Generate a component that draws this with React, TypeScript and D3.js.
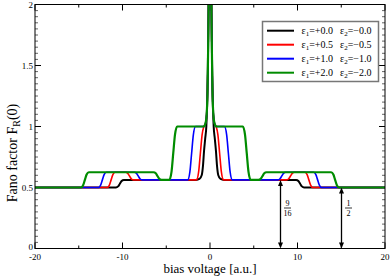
import React from "react";
import * as d3 from "d3";

const W = 391, H = 277;
const M = { left: 35, right: 385, top: 4.5, bottom: 248.5 };

const xMajor = [-20, -10, 0, 10, 20];
const xMinor = [-15, -5, 5, 15];
const yMajor = [0, 0.5, 1, 1.5, 2];
const yTickLabels = ["0", "0.5", "1", "1.5", "2"];

const blackPts: [number, number][] = [
  [-20, 0.5], [-10.75, 0.5], [-10.5, 0.509], [-10.3, 0.531], [-10.1, 0.553], [-9.85, 0.5625],
  [-1.6, 0.5625], [-1.2, 0.57], [-0.95, 0.6], [-0.8, 0.68], [-0.68, 0.8], [-0.55, 0.9], [-0.42, 1.0],
  [-0.32, 1.2], [-0.24, 1.5], [-0.17, 2.0], [-0.08, 2.6], [0, 2.8],
  [0.08, 2.6], [0.17, 2.0], [0.24, 1.5], [0.32, 1.2], [0.42, 1.0], [0.55, 0.9], [0.68, 0.8],
  [0.8, 0.68], [0.95, 0.6], [1.2, 0.57], [1.6, 0.5625],
  [9.85, 0.5625], [10.1, 0.553], [10.3, 0.531], [10.5, 0.509], [10.75, 0.5], [20, 0.5],
];

const redPts: [number, number][] = [
  [-20, 0.5], [-11.75, 0.5], [-11.5, 0.519], [-11.3, 0.5625], [-11.1, 0.606], [-10.85, 0.625],
  [-9.65, 0.625], [-9.4, 0.616], [-9.2, 0.594], [-9.0, 0.572], [-8.75, 0.5625],
  [-1.55, 0.5625], [-1.3, 0.628], [-1.1, 0.781], [-0.9, 0.934], [-0.7, 1.0],
  [-0.5, 1.03], [-0.38, 1.1], [-0.28, 1.3], [-0.2, 1.7], [-0.14, 2.1], [-0.07, 2.6], [0, 2.8],
  [0.07, 2.6], [0.14, 2.1], [0.2, 1.7], [0.28, 1.3], [0.38, 1.1], [0.5, 1.03],
  [0.7, 1.0], [0.9, 0.934], [1.1, 0.781], [1.3, 0.628], [1.55, 0.5625],
  [8.75, 0.5625], [9.0, 0.572], [9.2, 0.594], [9.4, 0.616], [9.65, 0.625],
  [10.85, 0.625], [11.1, 0.606], [11.3, 0.5625], [11.5, 0.519], [11.75, 0.5], [20, 0.5],
];

const bluePts: [number, number][] = [
  [-20, 0.5], [-12.75, 0.5], [-12.5, 0.519], [-12.3, 0.5625], [-12.1, 0.606], [-11.85, 0.625],
  [-8.65, 0.625], [-8.4, 0.616], [-8.2, 0.594], [-8.0, 0.572], [-7.75, 0.5625],
  [-2.55, 0.5625], [-2.3, 0.628], [-2.1, 0.781], [-1.9, 0.934], [-1.65, 1.0],
  [-0.7, 1.0], [-0.5, 1.03], [-0.38, 1.1], [-0.28, 1.3], [-0.2, 1.7], [-0.14, 2.1], [-0.07, 2.6], [0, 2.8],
  [0.07, 2.6], [0.14, 2.1], [0.2, 1.7], [0.28, 1.3], [0.38, 1.1], [0.5, 1.03], [0.7, 1.0],
  [1.65, 1.0], [1.9, 0.934], [2.1, 0.781], [2.3, 0.628], [2.55, 0.5625],
  [7.75, 0.5625], [8.0, 0.572], [8.2, 0.594], [8.4, 0.616], [8.65, 0.625],
  [11.85, 0.625], [12.1, 0.606], [12.3, 0.5625], [12.5, 0.519], [12.75, 0.5], [20, 0.5],
];

const greenPts: [number, number][] = [
  [-20, 0.5], [-14.75, 0.5], [-14.5, 0.519], [-14.3, 0.5625], [-14.1, 0.606], [-13.85, 0.625],
  [-6.45, 0.625], [-6.2, 0.616], [-6.0, 0.594], [-5.8, 0.572], [-5.55, 0.5625],
  [-4.65, 0.5625], [-4.4, 0.628], [-4.2, 0.781], [-4.0, 0.934], [-3.75, 1.0],
  [-0.7, 1.0], [-0.5, 1.03], [-0.38, 1.1], [-0.28, 1.3], [-0.2, 1.7], [-0.14, 2.1], [-0.07, 2.6], [0, 2.8],
  [0.07, 2.6], [0.14, 2.1], [0.2, 1.7], [0.28, 1.3], [0.38, 1.1], [0.5, 1.03], [0.7, 1.0],
  [3.75, 1.0], [4.0, 0.934], [4.2, 0.781], [4.4, 0.628], [4.65, 0.5625],
  [5.55, 0.5625], [5.8, 0.572], [6.0, 0.594], [6.2, 0.616], [6.45, 0.625],
  [13.85, 0.625], [14.1, 0.606], [14.3, 0.5625], [14.5, 0.519], [14.75, 0.5], [20, 0.5],
];

const seriesNames = ["black", "red", "blue", "green"];
const seriesColors = ["#000000", "#ff0000", "#0000ff", "#008c00"];
const seriesWidths = [2, 1.6, 1.6, 2.2];
const seriesData = [blackPts, redPts, bluePts, greenPts];
const eps1Labels = ["+0.0", "+0.5", "+1.0", "+2.0"];
const eps2Labels = ["\u22120.0", "\u22120.5", "\u22121.0", "\u22122.0"];

const annV = [8, 15];
const annF = [0.5625, 0.5];
const annNum = ["9", "1"];
const annDen = ["16", "2"];

const serif = "'Liberation Serif', 'Times New Roman', serif";

export default function App() {
  const x = d3.scaleLinear().domain([-20, 20]).range([M.left, M.right]);
  const y = d3.scaleLinear().domain([0, 2]).range([M.bottom, M.top]);
  const line = d3
    .line<[number, number]>()
    .x((d) => x(d[0]))
    .y((d) => y(d[1]))
    .curve(d3.curveMonotoneX);

  const yMinor = d3.range(0, 2.0001, 0.05).filter((v) => Math.abs(v * 2 - Math.round(v * 2)) > 1e-6);

  const majLen = 6, minLen = 3;

  return (
    <svg width={W} height={H} style={{ position: "absolute", left: 0, top: 0, background: "#fff" }}>
      <defs>
        <clipPath id="plotclip">
          <rect x={M.left} y={M.top} width={M.right - M.left} height={M.bottom - M.top} />
        </clipPath>
      </defs>
      <rect x={0} y={0} width={W} height={H} fill="#fff" />

      <g stroke="#000" strokeWidth={1}>
        {xMajor.map((v) => (
          <g key={"xM" + v}>
            <line x1={x(v)} x2={x(v)} y1={M.bottom} y2={M.bottom - majLen} />
            <line x1={x(v)} x2={x(v)} y1={M.top} y2={M.top + majLen} />
          </g>
        ))}
        {xMinor.map((v) => (
          <g key={"xm" + v}>
            <line x1={x(v)} x2={x(v)} y1={M.bottom} y2={M.bottom - minLen} />
            <line x1={x(v)} x2={x(v)} y1={M.top} y2={M.top + minLen} />
          </g>
        ))}
        {yMajor.map((v) => (
          <g key={"yM" + v}>
            <line x1={M.left} x2={M.left + majLen} y1={y(v)} y2={y(v)} />
            <line x1={M.right} x2={M.right - majLen} y1={y(v)} y2={y(v)} />
          </g>
        ))}
      </g>
      <g stroke="#666" strokeWidth={1}>
        {yMinor.map((v) => (
          <g key={"ym" + v.toFixed(2)}>
            <line x1={M.left} x2={M.left + minLen} y1={y(v)} y2={y(v)} />
            <line x1={M.right} x2={M.right - minLen} y1={y(v)} y2={y(v)} />
          </g>
        ))}
      </g>

      <g clipPath="url(#plotclip)" fill="none">
        {seriesData.map((pts, i) => (
          <path key={seriesNames[i]} d={line(pts) || ""} stroke={seriesColors[i]} strokeWidth={seriesWidths[i]} strokeLinejoin="round" />
        ))}
      </g>

      <rect x={M.left} y={M.top} width={M.right - M.left} height={M.bottom - M.top} fill="none" stroke="#000" strokeWidth={1} />

      <g fontFamily={serif} fontSize={9} fill="#000">
        {xMajor.map((v) => (
          <text key={"xl" + v} x={x(v)} y={259.5} textAnchor="middle">
            {v < 0 ? "-" + Math.abs(v) : String(v)}
          </text>
        ))}
        {yMajor.map((v, i) => (
          <text key={"yl" + v} x={33} y={y(v) + (v === 0 ? 1.5 : 3)} textAnchor="end">
            {yTickLabels[i]}
          </text>
        ))}
      </g>

      <text x={x(0)} y={273} textAnchor="middle" fontFamily={serif} fontSize={13}>
        bias voltage [a.u.]
      </text>
      <text transform={`translate(17,153) rotate(-90)`} textAnchor="middle" fontFamily={serif} fontSize={14}>
        Fano factor F<tspan fontSize={10} dy={3}>R</tspan><tspan dy={-3}>(0)</tspan>
      </text>

      {annV.map((v, i) => {
        const ax = Math.round(x(v)) + 0.5;
        const yt = y(annF[i]);
        const yb = y(0);
        return (
          <g key={"ann" + i}>
            <line x1={ax} x2={ax} y1={yt + 4} y2={yb - 4} stroke="#000" strokeWidth={1.3} />
            <path d={`M${ax},${yt} L${ax - 2.5},${yt + 6} L${ax + 2.5},${yt + 6} Z`} fill="#000" />
            <path d={`M${ax},${yb} L${ax - 2.5},${yb - 6} L${ax + 2.5},${yb - 6} Z`} fill="#000" />
            <g fontFamily={serif} fontSize={8} textAnchor="middle">
              <text x={ax + 7} y={206}>{annNum[i]}</text>
              <line x1={ax + 3.5} x2={ax + 10.5} y1={208} y2={208} stroke="#000" strokeWidth={0.8} />
              <text x={ax + 7} y={215.5}>{annDen[i]}</text>
            </g>
          </g>
        );
      })}

      <rect x={262.5} y={21.5} width={116} height={60} fill="#fff" stroke="#777" strokeWidth={1.5} />
      {seriesNames.map((n, i) => {
        const ly = 30.7 + i * 14;
        return (
          <g key={"leg" + n}>
            <line x1={267} x2={294} y1={ly} y2={ly} stroke={seriesColors[i]} strokeWidth={2} />
            <text x={301.5} y={ly + 3.5} fontFamily={serif} fontSize={10}>
              ε<tspan fontSize={7} dy={2}>1</tspan>
              <tspan dy={-2}>={eps1Labels[i]}</tspan>
            </text>
            <text x={340} y={ly + 3.5} fontFamily={serif} fontSize={10}>
              ε<tspan fontSize={7} dy={2}>2</tspan>
              <tspan dy={-2}>={eps2Labels[i]}</tspan>
            </text>
          </g>
        );
      })}
    </svg>
  );
}
